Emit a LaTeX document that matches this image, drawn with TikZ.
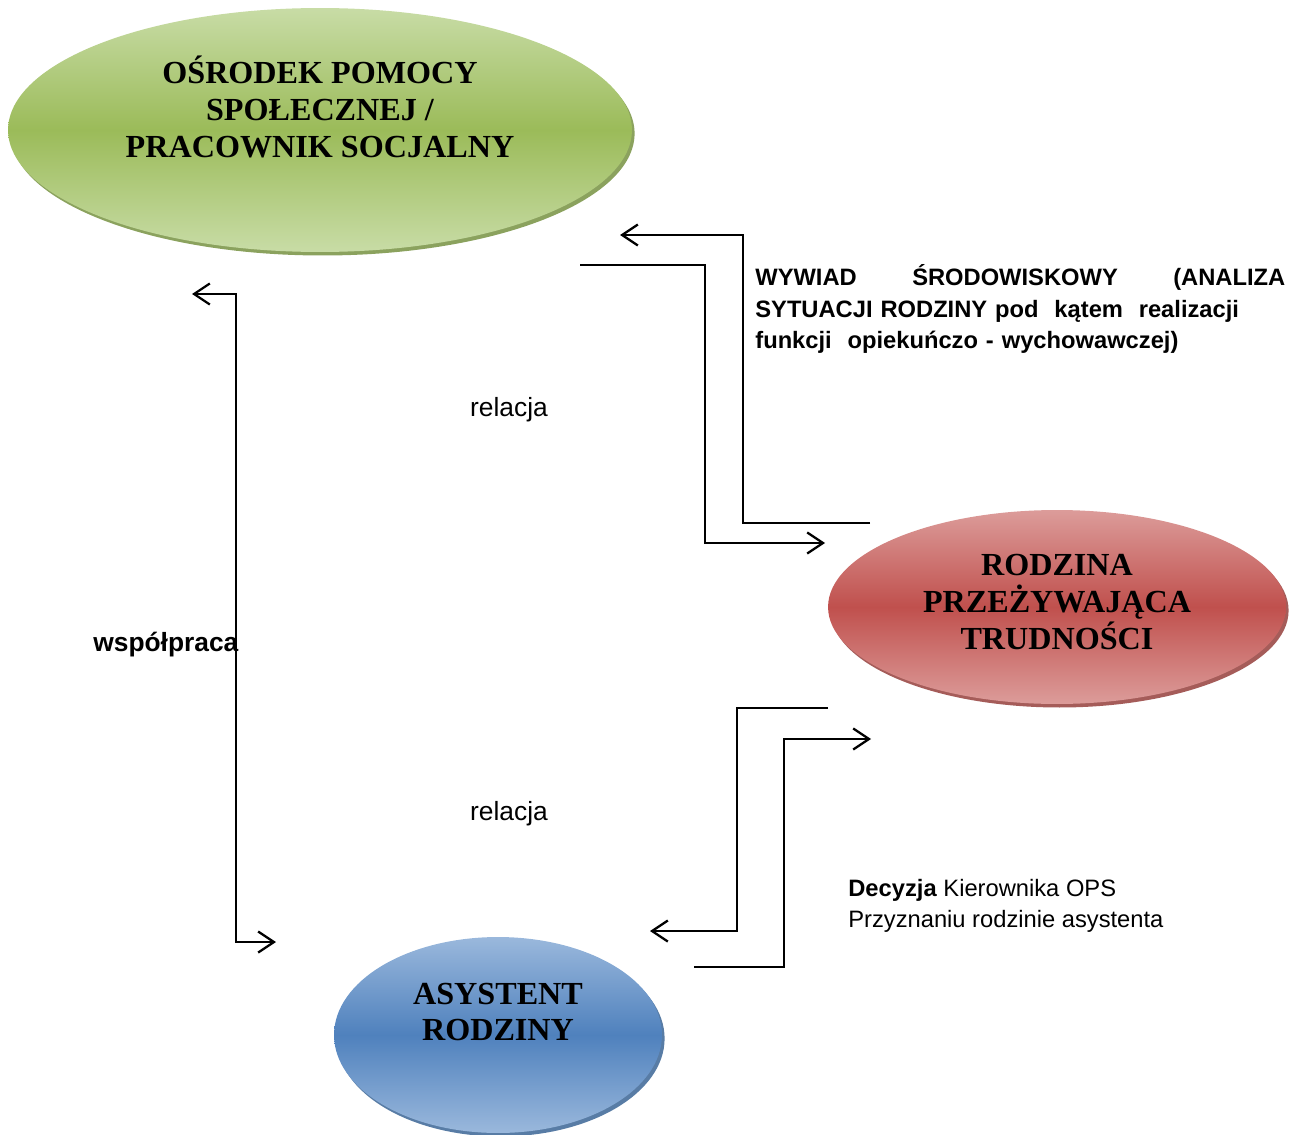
\documentclass[tikz,border=0pt]{standalone}
\usepackage{fontspec}
\setmainfont{Liberation Serif}
\setsansfont{Liberation Sans}
\usetikzlibrary{arrows.meta}
\usetikzlibrary{shapes}
\usetikzlibrary{shadows}

\definecolor{opsGreen}{HTML}{9BBB59}
\definecolor{opsLight}{HTML}{C8DCA6}
\definecolor{opsDark}{HTML}{6E8B36}
\definecolor{famRed}{HTML}{C0504D}
\definecolor{famLight}{HTML}{DC9C9A}
\definecolor{famDark}{HTML}{8E3330}
\definecolor{asBlue}{HTML}{4F81BD}
\definecolor{asLight}{HTML}{9AB8DC}
\definecolor{asDark}{HTML}{2E5B8E}

\begin{document}
\begin{tikzpicture}[x = 0.02cm, y = -0.02cm]
\tikzstyle{EllipseStyle}=[shape = ellipse,
                          inner sep = 0pt,
                          draw = none]
\tikzstyle{TitleStyle}=[align = center, inner sep = 0pt,
                        font = \bfseries\fontsize{18.3}{21}\selectfont]
\tikzstyle{NoteStyle}=[inner sep = 0pt, font = \sffamily\fontsize{13.5}{18}\selectfont]
\tikzstyle{LinkStyle}=[line width = 1.3pt,
                       >={Straight Barb[length = 9pt, width = 12pt]}]
\useasboundingbox (0,0) rectangle (1301,1135);

% ellipses
\node[EllipseStyle, minimum width = 12.48cm, minimum height = 4.88cm,
      top color = opsLight, bottom color = opsLight, middle color = opsGreen,
      drop shadow = {shadow xshift = 1.5pt, shadow yshift = -2pt, fill = opsDark, opacity = 0.8}]
      (ops) at (320,130) {};
\node[EllipseStyle, minimum width = 9.16cm, minimum height = 3.88cm,
      top color = famLight, bottom color = famLight, middle color = famRed,
      drop shadow = {shadow xshift = 1.5pt, shadow yshift = -2pt, fill = famDark, opacity = 0.8}]
      (fam) at (1057,607) {};
\node[EllipseStyle, minimum width = 6.56cm, minimum height = 3.92cm,
      top color = asLight, bottom color = asLight, middle color = asBlue,
      drop shadow = {shadow xshift = 1.5pt, shadow yshift = -2pt, fill = asDark, opacity = 0.8}]
      (asy) at (498,1035) {};

\node[TitleStyle] (opsText) at (320,107) {OŚRODEK POMOCY\\SPOŁECZNEJ /\\PRACOWNIK SOCJALNY};
\node[TitleStyle] (famText) at (1057,602) {RODZINA\\PRZEŻYWAJĄCA\\TRUDNOŚCI};
\node[TitleStyle] (asyText) at (498,1012) {ASYSTENT\\RODZINY};

% free ends of the connectors
\coordinate (coopTop) at (192,294);
\coordinate (coopBot) at (276,942);
\coordinate (wywStart) at (870,523);
\coordinate (wywEnd) at (620,235);
\coordinate (relStart) at (580,265);
\coordinate (relEnd) at (825,543);
\coordinate (decStart) at (828,708);
\coordinate (decEnd) at (650,931);
\coordinate (asyStart) at (694,967);
\coordinate (asyEnd) at (871,739);

\draw[LinkStyle, <->] (coopTop) -- ++(44,0) |- (coopBot);
\draw[LinkStyle, ->] (wywStart) -- ++(-127,0) |- (wywEnd);
\draw[LinkStyle, ->] (relStart) -- ++(125,0) |- (relEnd);
\draw[LinkStyle, ->] (decStart) -- ++(-91,0) |- (decEnd);
\draw[LinkStyle, ->] (asyStart) -- ++(90,0) |- (asyEnd);

% labels
\node[NoteStyle, anchor = west, align = left, text width = 10.6cm, font = \sffamily\bfseries\fontsize{13.5}{18}\selectfont]
      (wywText) at (755,309)
      {WYWIAD\hfill ŚRODOWISKOWY\hfill (ANALIZA\\
       SYTUACJI RODZINY pod~ kątem~ realizacji\\
       funkcji~ opiekuńczo - wychowawczej)};
\node[NoteStyle, font = \sffamily\fontsize{15}{18}\selectfont] (relTop) at (509,410) {relacja};
\node[NoteStyle, font = \sffamily\fontsize{15}{18}\selectfont] (relBot) at (509,814) {relacja};
\node[NoteStyle, anchor = west, font = \sffamily\bfseries\fontsize{15}{18}\selectfont]
      (coopText) at (93,645) {współpraca};
\node[NoteStyle, anchor = west, align = left] (decText) at (848,906)
      {\textbf{Decyzja} Kierownika OPS\\Przyznaniu rodzinie asystenta};
\end{tikzpicture}
\end{document}
